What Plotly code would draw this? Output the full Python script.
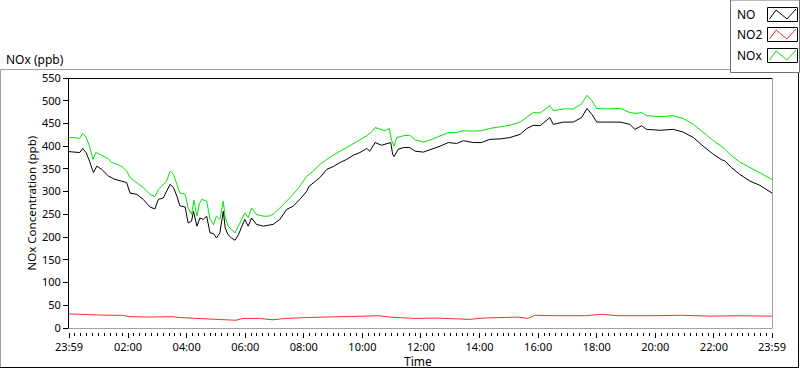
import plotly.graph_objects as go
from datetime import datetime, timedelta

# ---------------- data ----------------
nox_times = ["23:59", "00:11", "00:21", "00:27", "00:34", "00:41", "00:48", "00:54", "01:06", "01:20",
             "01:26", "01:37", "01:50", "01:57", "02:04", "02:18", "02:31", "02:45", "02:55", "03:02",
             "03:12", "03:19", "03:26", "03:33", "03:40", "03:46", "03:57", "04:03", "04:10", "04:15",
             "04:21", "04:26", "04:31", "04:41", "04:48", "04:55", "05:01", "05:08", "05:15", "05:19",
             "05:25", "05:32", "05:39", "05:46", "05:53", "05:59", "06:06", "06:13", "06:23", "06:37",
             "06:47", "06:57", "07:11", "07:25", "07:38", "07:52", "08:06", "08:19", "08:33", "08:47",
             "09:00", "09:14", "09:28", "09:41", "09:55", "10:09", "10:19", "10:26", "10:36", "10:46",
             "10:55", "11:00", "11:05", "11:10", "11:24", "11:37", "11:48", "12:05", "12:22", "12:39",
             "12:56", "13:13", "13:27", "13:47", "14:04", "14:21", "14:42", "15:02", "15:23", "15:37",
             "15:50", "16:04", "16:24", "16:31", "16:52", "17:12", "17:29", "17:40", "17:50", "18:00",
             "18:20", "18:48", "19:08", "19:22", "19:32", "19:42", "20:10", "20:37", "20:57", "21:18",
             "21:38", "21:59", "22:19", "22:33", "22:53", "23:14", "23:34", "23:59"]
nox_values = [419, 419, 417, 428, 420, 400, 371, 386, 380, 372,
              364, 361, 353, 345, 331, 320, 309, 294, 289, 305,
              316, 323, 345, 338, 316, 297, 294, 264, 250, 281,
              246, 274, 283, 279, 239, 227, 246, 239, 279, 243,
              224, 216, 209, 224, 239, 253, 243, 264, 250, 246,
              246, 250, 264, 279, 294, 312, 334, 345, 360, 371,
              380, 389, 397, 406, 414, 423, 431, 441, 437, 434,
              439, 412, 400, 419, 423, 424, 414, 409, 415, 423,
              430, 430, 434, 433, 434, 439, 442, 446, 453, 463,
              474, 473, 489, 478, 482, 482, 493, 512, 500, 483,
              482, 483, 474, 472, 474, 467, 465, 467, 461, 448,
              430, 412, 397, 382, 365, 353, 340, 327]

no_times = ["23:59", "00:11", "00:21", "00:27", "00:34", "00:41", "00:49", "00:56", "01:06", "01:20",
            "01:33", "01:47", "01:57", "02:04", "02:18", "02:31", "02:45", "02:55", "03:02", "03:12",
            "03:19", "03:26", "03:33", "03:40", "03:46", "03:57", "04:03", "04:10", "04:14", "04:21",
            "04:27", "04:34", "04:41", "04:48", "04:55", "05:01", "05:08", "05:15", "05:19", "05:25",
            "05:32", "05:39", "05:46", "05:53", "05:59", "06:06", "06:13", "06:23", "06:37", "06:47",
            "06:57", "07:11", "07:25", "07:38", "07:52", "08:06", "08:11", "08:33", "08:47", "09:00",
            "09:14", "09:28", "09:41", "09:55", "10:09", "10:15", "10:26", "10:39", "10:53", "10:58",
            "11:02", "11:05", "11:13", "11:24", "11:37", "11:48", "12:05", "12:22", "12:39", "12:56",
            "13:13", "13:27", "13:47", "14:04", "14:21", "14:42", "15:02", "15:23", "15:37", "15:50",
            "16:04", "16:24", "16:31", "16:52", "17:12", "17:29", "17:40", "17:50", "18:00", "18:20",
            "18:48", "19:08", "19:18", "19:32", "19:42", "20:10", "20:37", "20:57", "21:18", "21:38",
            "21:59", "22:16", "22:22", "22:36", "22:53", "23:14", "23:34", "23:59"]
no_values = [388, 386, 386, 395, 386, 367, 342, 356, 349, 334,
             327, 323, 320, 297, 294, 283, 266, 262, 283, 286,
             301, 316, 309, 290, 269, 266, 231, 235, 257, 224,
             242, 239, 246, 209, 208, 198, 209, 257, 220, 205,
             198, 193, 205, 224, 239, 224, 242, 228, 224, 226,
             228, 239, 261, 268, 283, 301, 312, 331, 349, 355,
             364, 371, 380, 386, 395, 389, 408, 402, 406, 408,
             382, 377, 393, 397, 397, 389, 387, 393, 400, 408,
             406, 412, 408, 408, 415, 416, 419, 426, 439, 446,
             445, 463, 448, 453, 453, 463, 483, 470, 453, 453,
             453, 448, 437, 445, 437, 435, 437, 431, 419, 400,
             382, 370, 368, 353, 338, 323, 314, 297]

no2_times = ["23:59", "00:34", "01:16", "01:49", "02:02", "02:43", "03:31", "03:45", "04:26", "05:00",
             "05:41", "05:55", "06:29", "06:56", "07:23", "08:04", "08:59", "09:47", "10:35", "10:55",
             "11:22", "11:49", "12:28", "13:15", "13:39", "14:10", "14:51", "15:18", "15:39", "15:53",
             "16:40", "17:35", "18:12", "18:43", "19:51", "20:53", "21:54", "22:49", "23:59"]
no2_values = [31, 29, 28, 28, 25, 24, 25, 23, 21, 19,
              17, 21, 21, 18, 21, 23, 24, 26, 27, 24,
              23, 21, 22, 21, 19, 22, 23, 24, 21, 28,
              27, 27, 30, 27, 27, 28, 26, 27, 26]

y_tick_step = 50
y_max = 550

# ---------------- helpers ----------------
DAY1 = datetime(2024, 1, 1)
DAY2 = datetime(2024, 1, 2)


def to_dt(times):
    out = []
    for i, s in enumerate(times):
        h, m = map(int, s.split(":"))
        base = DAY1 if i == 0 else DAY2
        out.append(base + timedelta(hours=h, minutes=m))
    return out


W, H = 800, 369
PL, PR, PT, PB = 69, 772, 78, 332  # plot area pixels (x axis drawn at PB)
Y0PX = 328                          # pixel of value 0


def px(x):
    return (x - PL) / (PR - PL)


def py(y):
    return (PB - y) / (PB - PT)


FONT = "Noto Sans"

fig = go.Figure()
fig.add_trace(go.Scatter(x=to_dt(no2_times), y=no2_values, mode="lines",
                         line=dict(color="#ff3030", width=1), name="NO2"))
fig.add_trace(go.Scatter(x=to_dt(nox_times), y=nox_values, mode="lines",
                         line=dict(color="#00e600", width=1), name="NOx"))
fig.add_trace(go.Scatter(x=to_dt(no_times), y=no_values, mode="lines",
                         line=dict(color="#000000", width=1), name="NO"))

start = datetime(2024, 1, 1, 23, 59)
end = datetime(2024, 1, 2, 23, 59)
majors = [start] + [datetime(2024, 1, 2, h) for h in range(2, 24, 2)] + [end]
minors = []
for a, b in zip(majors[:-1], majors[1:]):
    for k in range(1, 10):
        minors.append(a + (b - a) * k / 10)

fig.update_layout(
    width=W, height=H,
    margin=dict(l=PL, r=W - PR, t=PT, b=H - PB, pad=0),
    paper_bgcolor="white", plot_bgcolor="white",
    showlegend=False,
    font=dict(family=FONT, size=11, color="black"),
    xaxis=dict(type="date", range=[start, end], tickvals=majors, tickformat="%H:%M",
               ticks="outside", ticklen=5, tickwidth=1, tickcolor="black",
               showgrid=False, zeroline=False, showline=False,
               anchor="free", position=0,
               tickfont=dict(size=11),
               minor=dict(tickvals=minors, ticks="outside", ticklen=3, tickwidth=1,
                          tickcolor="black", showgrid=False)),
    yaxis=dict(range=[0, y_max], dtick=y_tick_step, tick0=0,
               domain=[(PB - Y0PX) / (PB - PT), 1],
               ticks="outside", ticklen=5, tickwidth=1, tickcolor="black",
               showgrid=False, zeroline=False, showline=False,
               tickfont=dict(size=11)),
)

GRAY = "#a0a0a0"
shapes = []


def line(x0, y0, x1, y1, color, w=1):
    shapes.append(dict(type="line", xref="paper", yref="paper",
                       x0=px(x0), y0=py(y0), x1=px(x1), y1=py(y1),
                       line=dict(color=color, width=w), layer="above"))


# plot frame
line(68.5, 78.5, 772.5, 78.5, "black")
line(68.5, 78.5, 68.5, 329, "black")
line(772.5, 78.5, 772.5, 328.5, GRAY)
line(68.5, 328.5, 772.5, 328.5, GRAY)
# outer frame
line(0.5, 69.5, 730, 69.5, GRAY)
line(0.5, 69.5, 0.5, 368, GRAY)
line(0, 367.5, 799, 367.5, "black")
line(798.5, 72, 798.5, 368, "black")
# legend box
shapes.append(dict(type="rect", xref="paper", yref="paper",
                   x0=px(730.5), y0=py(0), x1=px(799.5), y1=py(72.5),
                   line=dict(color="#707070", width=1), fillcolor="white", layer="above"))

legend_items = [("NO", "#000000", 7.5), ("NO2", "#ff3030", 27.5), ("NOx", "#00e600", 48.5)]
annotations = []
for name, color, top in legend_items:
    shapes.append(dict(type="rect", xref="paper", yref="paper",
                       x0=px(767.5), y0=py(top), x1=px(797.5), y1=py(top + 14),
                       line=dict(color="black", width=1), fillcolor="white", layer="above"))
    pts = [(769.5, top + 11.5), (776, top + 2.5), (787, top + 11.5), (796, top + 1.5)]
    path = "M " + " L ".join(f"{px(a)},{py(b)}" for a, b in pts)
    shapes.append(dict(type="path", xref="paper", yref="paper", path=path,
                       line=dict(color=color, width=1), layer="above"))
    annotations.append(dict(xref="paper", yref="paper", x=px(735), y=py(top + 7),
                            text=name, showarrow=False, xanchor="left", yanchor="middle",
                            font=dict(family=FONT, size=12, color="black")))

annotations += [
    dict(xref="paper", yref="paper", x=px(4), y=py(59.5), text="NOx (ppb)",
         showarrow=False, xanchor="left", yanchor="middle",
         font=dict(family=FONT, size=12, color="black")),
    dict(xref="paper", yref="paper", x=px(31), y=py(203.5), text="NOx Concentration (ppb)",
         showarrow=False, textangle=-90, xanchor="center", yanchor="middle",
         font=dict(family=FONT, size=11.5, color="black")),
    dict(xref="paper", yref="paper", x=px(418), y=py(361.5), text="Time",
         showarrow=False, xanchor="center", yanchor="middle",
         font=dict(family=FONT, size=12, color="black")),
]

fig.update_layout(shapes=shapes, annotations=annotations)
fig.write_html("out.html", config={"displayModeBar": False},
               post_script="document.body.style.margin='0';document.body.style.overflow='hidden';")
